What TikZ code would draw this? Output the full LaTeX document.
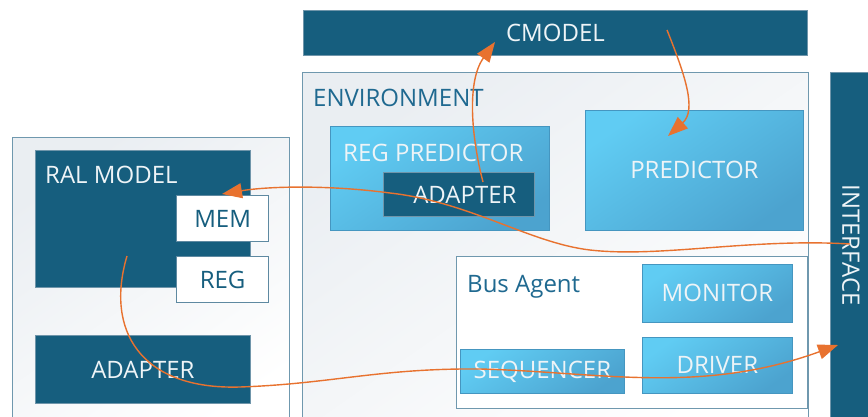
\documentclass[tikz,border=0pt]{standalone}
\usepackage{fontspec}
\setmainfont{Open Sans}
\usetikzlibrary{arrows.meta}

\definecolor{dkblue}{HTML}{165E7E}
\definecolor{dkline}{HTML}{6F95AA}
\definecolor{cyantop}{HTML}{60CCF3}
\definecolor{cyanbot}{HTML}{4CA3CF}
\definecolor{cyanline}{HTML}{4596C0}
\definecolor{panelline}{HTML}{6F98AE}
\definecolor{panelfill}{HTML}{EAEEF2}
\definecolor{whiteline}{HTML}{5E89A1}
\definecolor{lighttext}{HTML}{EEF4F7}
\definecolor{bluetext}{HTML}{1F6990}
\definecolor{flowc}{HTML}{E8722F}

\tikzset{
  lbl/.style={font=\fontsize{24}{28}\selectfont, inner sep=0pt},
  box/.style 2 args={minimum width=#1pt, minimum height=#2pt, anchor=north west, inner sep=0pt},
  panel/.style={draw=panelline, line width=1.4pt, top color=panelfill, bottom color=white, shading angle=35},
  plainpanel/.style={draw=panelline, line width=1.4pt, fill=white},
  darkbox/.style={fill=dkblue, draw=dkline, line width=0.8pt, text=lighttext, lbl},
  cyanbox/.style={draw=cyanline, line width=0.8pt, top color=cyantop, bottom color=cyanbot, shading angle=35, text=lighttext, lbl},
  whitebox/.style={fill=white, draw=whiteline, line width=1.3pt, text=dkblue, lbl},
  title/.style={lbl, anchor=base west},
  flow/.style={draw=flowc, line width=1.4pt, -{Triangle[length=20pt,width=15pt]}}
}

\begin{document}
\begin{tikzpicture}[x=1pt, y=-1pt]
\useasboundingbox (0,0) rectangle (868,417);

% containers
\node[panel, box={277}{300}] (ralpanel) at (12,137) {};
\node[panel, box={506}{360}] (env) at (302,72) {};
\node[title, text=bluetext] (envtitle) at (313,107) {ENVIRONMENT};

% top and side bars
\node[darkbox, box={504}{45}] (cmodel) at (303,10) {CMODEL};
\node[darkbox, box={45}{360}] (ifbar) at (830,72) {};
\node[lbl, text=lighttext, rotate=-90] (iftext) at (851,245) {INTERFACE};

% register model side
\node[darkbox, box={215}{137}] (ral) at (35,150) {};
\node[title, text=lighttext] (raltitle) at (45,184) {RAL MODEL};
\node[whitebox, box={92}{46}] (mem) at (176,195) {MEM};
\node[whitebox, box={92}{46}] (reg) at (176,256) {REG};
\node[darkbox, box={215}{68}] (adapterl) at (35,335) {ADAPTER};

% predictors
\node[cyanbox, box={219}{104}] (regpred) at (330,126) {};
\node[title, text=lighttext] (regpredtitle) at (343,162) {REG PREDICTOR};
\node[darkbox, box={151}{44}, xshift=0pt] (adapterr) at (383,172) {\hspace*{12pt}ADAPTER};
\node[cyanbox, box={218}{120}] (pred) at (585,110) {PREDICTOR};

% bus agent
\node[plainpanel, box={351}{152}] (agent) at (456,256) {};
\node[title, text=bluetext] (agenttitle) at (467,292) {Bus Agent};
\node[cyanbox, box={150}{58}] (monitor) at (642,264) {MONITOR};
\node[cyanbox, box={150}{56}] (driver) at (642,337) {DRIVER};
\node[cyanbox, box={164}{44}] (seqr) at (460,349) {SEQUENCER};

% connector end points
\coordinate (a1s) at (483,182);
\coordinate (a1e) at (495,42);
\coordinate (a2s) at (667,30);
\coordinate (a2e) at (668,136);
\coordinate (a3s) at (850,244);
\coordinate (a3e) at (222,194);
\coordinate (a4s) at (127,256);
\coordinate (a4e) at (838,345);

% flows
\draw[flow] (a1s) .. controls (472,140) and (466,82) .. (a1e);
\draw[flow] (a2s) .. controls (685,75) and (697,110) .. (a2e);
\draw[flow] (a3s) .. controls (750,238) and (660,258) .. (590,250)
                  .. controls (530,243) and (470,202) .. (390,193)
                  .. controls (330,185) and (270,186) .. (a3e);
\draw[flow] (a4s) .. controls (105,330) and (140,390) .. (240,387)
                  .. controls (330,384) and (380,368) .. (480,369)
                  .. controls (600,372) and (700,395) .. (a4e);
\end{tikzpicture}
\end{document}
